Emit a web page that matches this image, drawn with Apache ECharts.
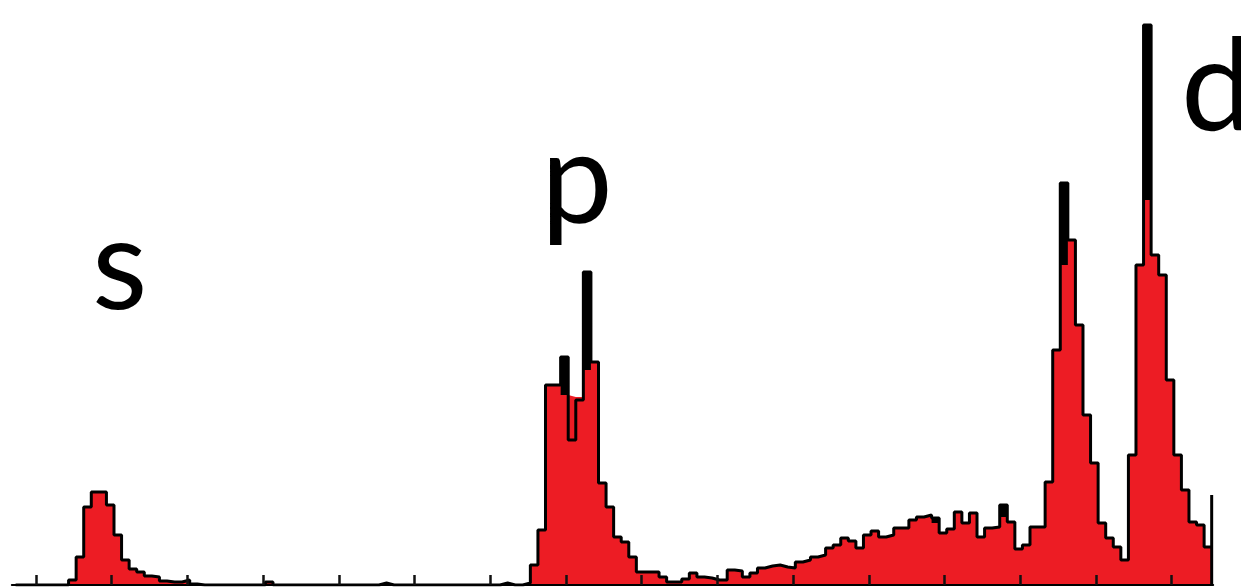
<!DOCTYPE html>
<html>
<head>
<meta charset="utf-8">
<script src="https://cdn.jsdelivr.net/npm/echarts@6/dist/echarts.min.js"></script>
<style>
  html, body { margin: 0; padding: 0; background: #ffffff; }
  #chart { width: 1241px; height: 587px; }
</style>
</head>
<body>
<div id="chart"></div>
<script>
// ---- data ----
const tickValues = [0, 1, 2, 3, 4, 5, 6, 7, 8, 9, 10, 11, 12, 13, 14, 15];
const binStart = -0.27;   // left edge of the first bin, in tick units
const binWidth = 0.1;     // ten bins per tick interval

// red filled histogram (counts per bin)
const fillCounts = [
  0, 0, 0, 0, 0, 0, 0, 5, 28, 78,
  93, 93, 80, 50, 25, 16, 13, 9, 8, 4,
  3, 3, 5, 1, 0, 0, 0, 0, 0, 0,
  0, 0, 0, 3, 0, 0, 0, 0, 0, 0,
  0, 0, 0, 0, 0, 0, 0, 0, 2, 0,
  0, 0, 0, 0, 0, 0, 0, 0, 0, 0,
  0, 0, 0, 0, 2, 0, 0, 2, 20, 55,
  200, 200, 190, 188, 188, 215, 223, 102, 78, 48,
  43, 28, 13, 13, 13, 8, 3, 3, 6, 12,
  8, 7, 5, 5, 15, 14, 8, 12, 17, 19,
  20, 18, 17, 23, 25, 28, 30, 37, 40, 47,
  44, 37, 50, 54, 48, 50, 57, 57, 65, 68,
  70, 62, 52, 56, 73, 62, 72, 48, 57, 58,
  68, 63, 36, 40, 58, 58, 103, 235, 320, 345,
  260, 170, 122, 62, 47, 38, 25, 130, 320, 385,
  330, 310, 205, 130, 95, 63, 60, 38
];

// black outline histogram (slightly misregistered against the fill)
const outlineCounts = [
  0, 0, 0, 0, 0, 0, 0, 5, 28, 78,
  93, 93, 80, 50, 25, 16, 13, 9, 8, 4,
  3, 3, 5, 1, 0, 0, 0, 0, 0, 0,
  0, 0, 0, 3, 0, 0, 0, 0, 0, 0,
  0, 0, 0, 0, 0, 0, 0, 0, 2, 0,
  0, 0, 0, 0, 0, 0, 0, 0, 0, 0,
  0, 0, 0, 0, 2, 0, 0, 2, 20, 55,
  200, 200, 228, 145, 185, 313, 223, 102, 78, 48,
  43, 28, 13, 13, 13, 8, 3, 3, 6, 12,
  8, 7, 5, 5, 15, 14, 8, 12, 17, 19,
  20, 18, 17, 23, 25, 28, 30, 37, 40, 47,
  44, 37, 50, 54, 48, 50, 57, 57, 65, 68,
  70, 67, 52, 56, 73, 62, 72, 48, 57, 58,
  80, 63, 36, 40, 58, 58, 103, 235, 402, 345,
  260, 170, 122, 62, 47, 38, 25, 130, 320, 560,
  330, 310, 205, 130, 95, 63, 60, 38
];
const outlineTail = [90, 0];   // thin edge line at the right end

const peakLabels = ['s', 'p', 'd'];

// ---- build step points from the arrays ----
function edge(i) { return +(binStart + i * binWidth).toFixed(4); }
const fillPts = fillCounts.map((v, i) => [edge(i), v]);
fillPts.push([edge(fillCounts.length), 0]);
const outlinePts = outlineCounts.map((v, i) => [edge(i), v]);
outlineTail.forEach(v => outlinePts.push([edge(outlineCounts.length), v]));

const chart = echarts.init(document.getElementById('chart'), null, { renderer: 'canvas' });

const labelFont = '128px Lato, "Open Sans", sans-serif';
chart.setOption({
  animation: false,
  backgroundColor: '#ffffff',
  grid: { left: 11.8, width: 1201.4, top: 0, bottom: 2 },
  xAxis: {
    type: 'value',
    min: -0.32,
    max: 15.55,
    z: 10,
    axisLine: { show: true, lineStyle: { color: '#000', width: 2 } },
    axisTick: {
      show: true, inside: true, length: 10,
      customValues: tickValues,
      lineStyle: { color: '#111', width: 2.5 }
    },
    axisLabel: { show: false },
    splitLine: { show: false }
  },
  yAxis: {
    type: 'value', min: 0, max: 585, show: false,
    splitLine: { show: false }
  },
  series: [
    {
      name: 'outline-area', type: 'line', step: 'end', data: outlinePts,
      showSymbol: false, silent: true, z: 1,
      lineStyle: { opacity: 0 },
      areaStyle: { color: '#000', opacity: 1 }
    },
    {
      name: 'fill', type: 'line', step: 'end', data: fillPts,
      showSymbol: false, silent: true, z: 2,
      lineStyle: { opacity: 0 },
      areaStyle: { color: '#ed1c24', opacity: 1 }
    },
    {
      name: 'outline', type: 'line', step: 'end', data: outlinePts,
      showSymbol: false, silent: true, z: 3,
      lineStyle: { color: '#000', width: 3 }
    }
  ],
  graphic: [
    { type: 'text', x: 92, y: 268, z: 20,
      style: { text: peakLabels[0], font: labelFont, fill: '#000', textAlign: 'left', textVerticalAlign: 'middle' } },
    { type: 'text', x: 541, y: 182, z: 20,
      style: { text: peakLabels[1], font: labelFont, fill: '#000', textAlign: 'left', textVerticalAlign: 'middle' } },
    { type: 'text', x: 1181, y: 89, z: 20,
      style: { text: peakLabels[2], font: labelFont, fill: '#000', textAlign: 'left', textVerticalAlign: 'middle' } }
  ]
});
</script>
</body>
</html>
